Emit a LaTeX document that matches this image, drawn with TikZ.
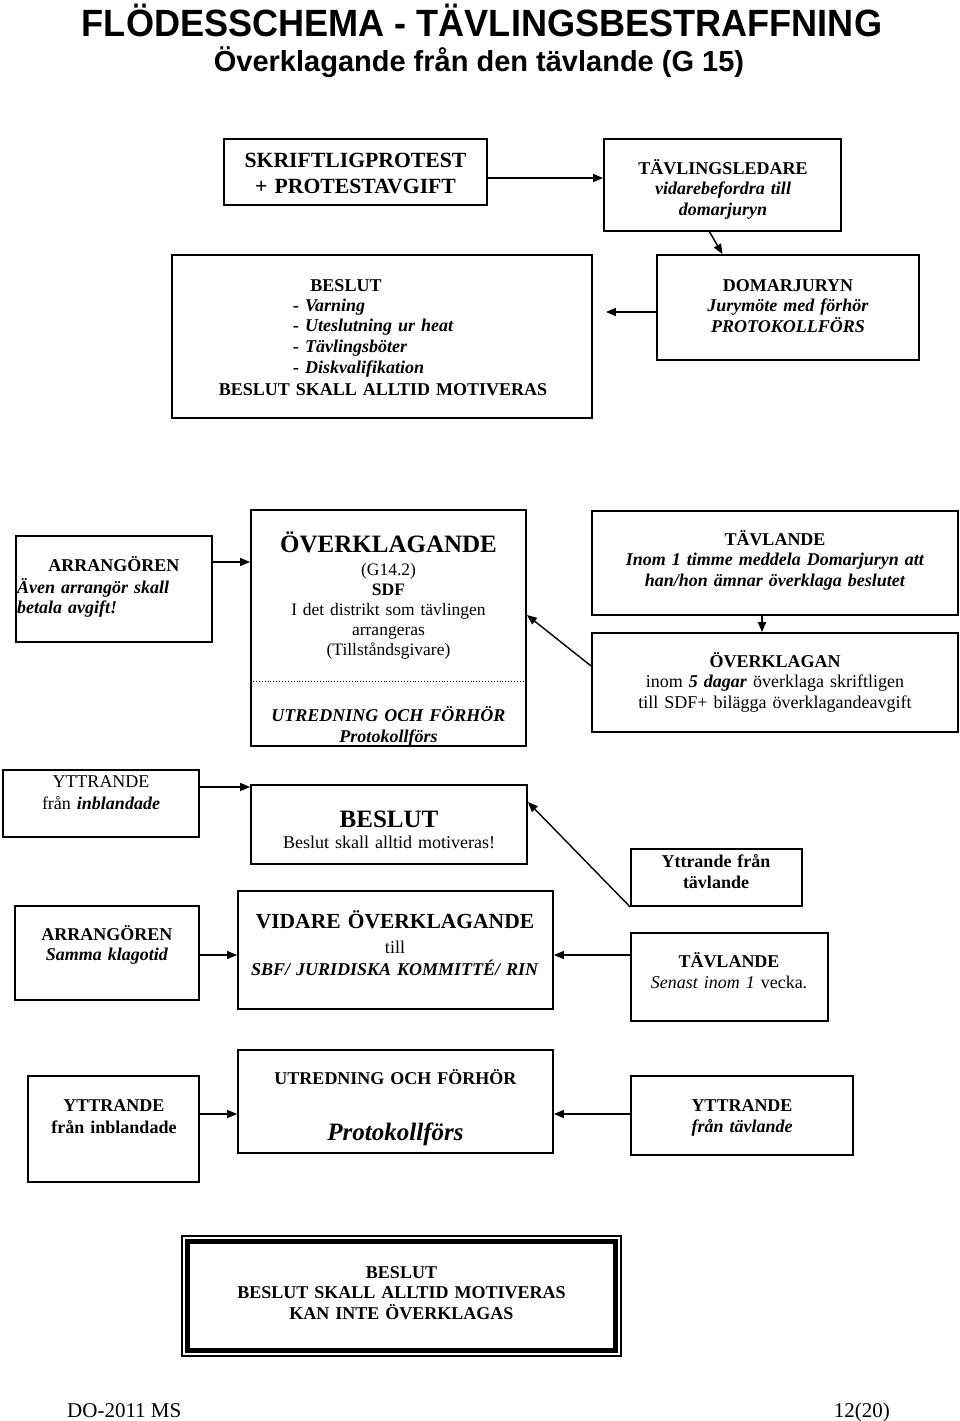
\documentclass[tikz,border=0pt]{standalone}
\usepackage{fontspec}
\usepackage{graphicx}
\setmainfont{Liberation Serif}
\newfontfamily\titlefont{Liberation Sans}
\usetikzlibrary{arrows.meta}
\newcommand\fsz[2]{\fontsize{#1pt}{#2pt}\selectfont}
\newcommand\bx[5]{\node[box,minimum width={#4-#2},minimum height={#5-#3}] (#1) at ({(#2+#4)/2},{(#3+#5)/2}) {};}
\begin{document}
\begin{tikzpicture}[x=1pt,y=-1pt,
  box/.style={draw,line width=1.8pt,inner sep=0pt},
  tx/.style={inner sep=0pt,anchor=base,text width=500pt,align=center},
  txl/.style={inner sep=0pt,anchor=base west,text width=400pt,align=left},
  arr/.style={line width=1.4pt,-{Triangle[length=10pt,width=8pt]}}]
\fill[white] (0,0) rectangle (960,1421);
\useasboundingbox (0,0) rectangle (960,1421);

% title
\node[anchor=base,inner sep=0pt,font={\titlefont\bfseries\fsz{38}{40}}] (title) at (482,37) {\scalebox{0.95}[1]{FLÖDESSCHEMA - TÄVLINGSBESTRAFFNING}};
\node[anchor=base,inner sep=0pt,font={\titlefont\bfseries\fsz{29}{31}}] (subtitle) at (479,71) {Överklagande från den tävlande (G 15)};

% boxes
\bx{b1}{224}{139}{487}{205}
\bx{b2}{604}{139}{841}{231}
\bx{b3}{172}{255}{592}{418}
\bx{b4}{657}{255}{919}{360}
\bx{b5}{16}{536}{212}{642}
\bx{b6}{251}{510}{526}{746}
\bx{b7}{592}{511}{958}{615}
\bx{b8}{592}{633}{958}{732}
\bx{b9}{3}{770}{199}{837}
\bx{b10}{251}{785}{527}{864}
\bx{b11}{15}{906}{199}{1000}
\bx{b12}{238}{891}{553}{1009}
\bx{b13}{631}{849}{802}{906}
\bx{b14}{631}{933}{828}{1021}
\bx{b15}{28}{1076}{199}{1182}
\bx{b16}{238}{1050}{553}{1153}
\bx{b17}{631}{1076}{853}{1155}
\node[draw,line width=1.1pt,inner sep=0pt,minimum width=439,minimum height=120] (b18) at (401.5,1296) {};
\draw[line width=4.5pt] ([shift={(6,6)}]b18.north west) rectangle ([shift={(-6,-6)}]b18.south east);

% dotted separator
\draw[dotted,line width=0.9pt] (b6.west |- 0,681) -- (b6.east |- 0,681);

% texts
\node[tx,font={\bfseries\fsz{21.7}{26}}] (t1) at (355.5,167) {SKRIFTLIGPROTEST\\+ PROTESTAVGIFT};
\node[tx,font={\fsz{18}{20.5}}] (t2) at (723,174) {\textbf{TÄVLINGSLEDARE}\\\textbf{\textit{vidarebefordra till}}\\\textbf{\textit{domarjuryn}}};
\node[tx,font={\bfseries\fsz{18}{20.7}}] (t3a) at (346,291) {BESLUT};
\node[txl,font={\bfseries\itshape\fsz{18}{20.7}}] (t3b) at (293,311) {- Varning\\- Uteslutning ur heat\\- Tävlingsböter\\- Diskvalifikation};
\node[tx,font={\bfseries\fsz{18}{20.7}}] (t3c) at (383,395) {BESLUT SKALL ALLTID MOTIVERAS};
\node[tx,font={\fsz{18}{20.5}}] (t4) at (788,291) {\textbf{DOMARJURYN}\\\textbf{\textit{Jurymöte med förhör}}\\\textbf{\textit{PROTOKOLLFÖRS}}};

\node[tx,font={\bfseries\fsz{18}{20}}] (t5a) at (114,571) {ARRANGÖREN};
\node[txl,font={\bfseries\itshape\fsz{18}{20}}] (t5b) at (17,593) {Även arrangör skall\\betala avgift!};
\node[tx,font={\bfseries\fsz{25}{27}}] (t6a) at (388.5,552) {ÖVERKLAGANDE};
\node[tx,font={\fsz{17.5}{20.2}}] (t6b) at (388.5,575) {(G14.2)\\\textbf{SDF}\\I det distrikt som tävlingen\\arrangeras\\(Tillståndsgivare)};
\node[tx,font={\bfseries\itshape\fsz{18}{21}}] (t6c) at (388.5,721) {UTREDNING OCH FÖRHÖR\\Protokollförs};
\node[tx,font={\fsz{18}{20.5}}] (t7) at (775,545) {\textbf{TÄVLANDE}\\\textbf{\textit{Inom 1 timme meddela Domarjuryn att}}\\\textbf{\textit{han/hon ämnar överklaga beslutet}}};
\node[tx,font={\fsz{18}{20.5}}] (t8) at (775,667) {\textbf{ÖVERKLAGAN}\\inom \textbf{\textit{5 dagar}} överklaga skriftligen\\till SDF+ bilägga överklagandeavgift};

\node[tx,font={\fsz{18}{22}}] (t9) at (101,787) {YTTRANDE\\från \textbf{\textit{inblandade}}};
\node[tx,font={\bfseries\fsz{25}{27}}] (t10a) at (389,827) {BESLUT};
\node[tx,font={\fsz{18}{20}}] (t10b) at (389,848) {Beslut skall alltid motiveras!};
\node[tx,font={\fsz{18}{20}}] (t11) at (107,940) {\textbf{ARRANGÖREN}\\\textbf{\textit{Samma klagotid}}};
\node[tx,font={\bfseries\fsz{21.5}{24}}] (t12a) at (395,928) {VIDARE ÖVERKLAGANDE};
\node[tx,font={\fsz{18}{22}}] (t12b) at (395,953) {till\\\textbf{\textit{SBF/ JURIDISKA KOMMITTÉ/ RIN}}};
\node[tx,font={\bfseries\fsz{18}{21}}] (t13) at (716,867) {Yttrande från\\tävlande};
\node[tx,font={\fsz{18}{21}}] (t14) at (729,967) {\textbf{TÄVLANDE}\\\textit{Senast inom 1} vecka.};

\node[tx,font={\bfseries\fsz{18}{22}}] (t15) at (114,1111) {YTTRANDE\\från inblandade};
\node[tx,font={\bfseries\fsz{18}{20}}] (t16a) at (395.5,1084) {UTREDNING OCH FÖRHÖR};
\node[tx,font={\bfseries\itshape\fsz{25}{27}}] (t16b) at (395.5,1140) {Protokollförs};
\node[tx,font={\fsz{18}{21}}] (t17) at (742,1111) {\textbf{YTTRANDE}\\\textbf{\textit{från tävlande}}};
\node[tx,font={\bfseries\fsz{18}{20.5}}] (t18) at (401.5,1278) {BESLUT\\BESLUT SKALL ALLTID MOTIVERAS\\KAN INTE ÖVERKLAGAS};

\node[anchor=base west,inner sep=0pt,font={\fsz{21}{23}}] (f1) at (67,1417) {DO-2011 MS};
\node[anchor=base east,inner sep=0pt,font={\fsz{21}{23}}] (f2) at (890,1417) {12(20)};

% arrows
\draw[arr] (b1.east |- 0,178) -- (b2.west |- 0,178);
\draw[arr] ([xshift=-13pt]b2.south) -- (b2.south |- b4.north);
\draw[arr,shorten >=13pt] (b4.west |- 0,312) -- (b3.east |- 0,312);
\draw[arr] (b5.east |- 0,562) -- (b6.west |- 0,562);
\draw[arr] ([xshift=-13pt]b7.south) -- ([xshift=-13pt]b8.north);
\draw[arr] (b8.west |- 0,666) -- (b6.east |- 0,615);
\draw[arr] (b9.east |- 0,787) -- (b10.west |- 0,787);
\draw[arr] (b13.south west) -- (b10.east |- 0,802);
\draw[arr] (b11.east |- 0,955) -- (b12.west |- 0,955);
\draw[arr] (b14.west |- 0,955) -- (b12.east |- 0,955);
\draw[arr] (b15.east |- 0,1114) -- (b16.west |- 0,1114);
\draw[arr] (b17.west |- 0,1114) -- (b16.east |- 0,1114);
\end{tikzpicture}
\end{document}
